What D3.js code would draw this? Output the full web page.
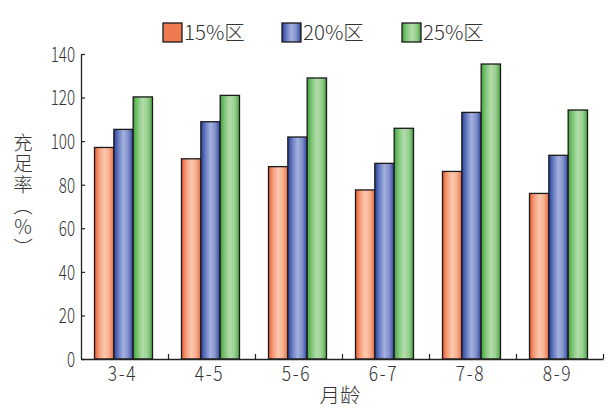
<!DOCTYPE html>
<html><head><meta charset="utf-8">
<script src="https://cdn.jsdelivr.net/npm/d3@7"></script>
<style>
html,body{margin:0;padding:0;background:#fff;}
svg{display:block;}
</style></head>
<body>
<svg id="chart" width="613" height="414"></svg>
<script>
const categories = ["3-4","4-5","5-6","6-7","7-8","8-9"];
const seriesNames = ["15%区","20%区","25%区"];
const s15 = [97.1, 91.9, 88.3, 77.6, 86.1, 76.0];
const s20 = [105.4, 108.9, 101.9, 89.8, 113.2, 93.5];
const s25 = [120.3, 121.0, 129.0, 105.9, 135.4, 114.3];
const yTicks = [0,20,40,60,80,100,120,140];
const yTitle = "充足率（％）";
const xTitle = "月龄";

(function(){
const seriesVals = [s15, s20, s25];
const svg = d3.select("#chart");
const defs = svg.append("defs");
const grads = [
  {id:"g0", stops:["#e85a32","#f6a07c","#fac8ae","#f7b090","#e8693e"]},
  {id:"g1", stops:["#283f98","#6b7fc4","#a4b0dc","#8190cc","#2c4298"]},
  {id:"g2", stops:["#45a23f","#82c87a","#b4dcab","#98d090","#4aa243"]}
];
grads.forEach(g=>{
  const lg = defs.append("linearGradient").attr("id",g.id).attr("x1","0").attr("x2","1").attr("y1","0").attr("y2","0");
  g.stops.forEach((c,i)=>lg.append("stop").attr("offset",(i/(g.stops.length-1)*100)+"%").attr("stop-color",c));
});

const FONT = "Noto Sans CJK SC, Noto Sans, sans-serif";
const mLeft = 81, mRight = 603, mTop = 54, mBottom = 359;
const x = d3.scaleBand().domain(categories).range([mLeft,mRight]).paddingInner(1/3).paddingOuter(1/6);
const xs = d3.scaleBand().domain(d3.range(seriesNames.length)).range([0,x.bandwidth()]);
const y = d3.scaleLinear().domain([0,140]).range([mBottom,mTop]);

// bars
const groups = svg.append("g").selectAll("g").data(categories).join("g")
  .attr("transform",d=>`translate(${x(d)-1},0)`);
groups.selectAll("rect").data((d,i)=>seriesVals.map((s,k)=>({k,v:s[i]}))).join("rect")
  .attr("x",d=>xs(d.k)).attr("width",xs.bandwidth())
  .attr("y",d=>y(d.v)).attr("height",d=>mBottom-y(d.v))
  .attr("fill",d=>`url(#g${d.k})`).attr("stroke","#1a1a1a").attr("stroke-width",1.3);

// y axis
const yAxis = svg.append("g").attr("transform",`translate(${mLeft},0)`)
  .call(d3.axisLeft(y).tickValues(yTicks).tickSize(-4).tickSizeOuter(0).tickPadding(0));
yAxis.select(".domain").attr("stroke","#222").attr("stroke-width",1.3);
yAxis.selectAll(".tick line").attr("stroke","#222").attr("stroke-width",1.2);
yAxis.selectAll(".tick text").attr("x",-8).attr("dy","0.36em")
  .attr("transform","scale(0.74,1)")
  .attr("font-family",FONT).attr("font-weight",300).attr("font-size",20.5).attr("fill","#333");

// x axis line + boundary ticks
const xb = d3.scaleLinear().domain([0,categories.length]).range([mLeft,mRight]);
const xAxisTicks = svg.append("g").attr("transform",`translate(0,${mBottom})`)
  .call(d3.axisBottom(xb).tickValues(d3.range(1,categories.length+1)).tickSize(-5).tickSizeOuter(0).tickFormat(""));
xAxisTicks.select(".domain").attr("stroke","#222").attr("stroke-width",1.6);
xAxisTicks.selectAll(".tick line").attr("stroke","#222").attr("stroke-width",1.2);

// x category labels
const xAxis = svg.append("g").attr("transform",`translate(-2,${mBottom})`)
  .call(d3.axisBottom(x).tickSize(0).tickPadding(15));
xAxis.select(".domain").remove();
xAxis.selectAll(".tick text").attr("dy","0.32em")
  .attr("font-family",FONT).attr("font-weight",300).attr("font-size",20.5).attr("fill","#333")
  .attr("letter-spacing","2px").attr("transform","scale(0.85,1)");

// legend
const legX = [163, 282, 402];
const leg = svg.append("g").selectAll("g").data(seriesNames).join("g")
  .attr("transform",(d,i)=>`translate(${legX[i]},23)`);
leg.append("rect").attr("width",19).attr("height",19)
  .attr("fill",(d,i)=> i===0 ? "#f07a50" : `url(#g${i})`)
  .attr("stroke","#1a1a1a").attr("stroke-width",1.3);
leg.append("text").attr("x",21).attr("y",17)
  .attr("font-family",FONT).attr("font-size",20.5).attr("fill","#333")
  .attr("font-weight",300)
  .text(d=>d);

// y title (vertical)
svg.append("text").attr("x",23).attr("y",133)
  .style("writing-mode","vertical-rl").style("text-orientation","upright")
  .attr("font-family",FONT).attr("font-size",19.5).attr("fill","#333")
  .attr("font-weight",300).attr("letter-spacing","1.5px")
  .text(yTitle);

// x title
svg.append("text").attr("x",340).attr("y",396).attr("dy","0.35em").attr("text-anchor","middle")
  .attr("font-family",FONT).attr("font-size",20.5).attr("fill","#333")
  .attr("font-weight",300)
  .text(xTitle);
})();
</script>
</body></html>
